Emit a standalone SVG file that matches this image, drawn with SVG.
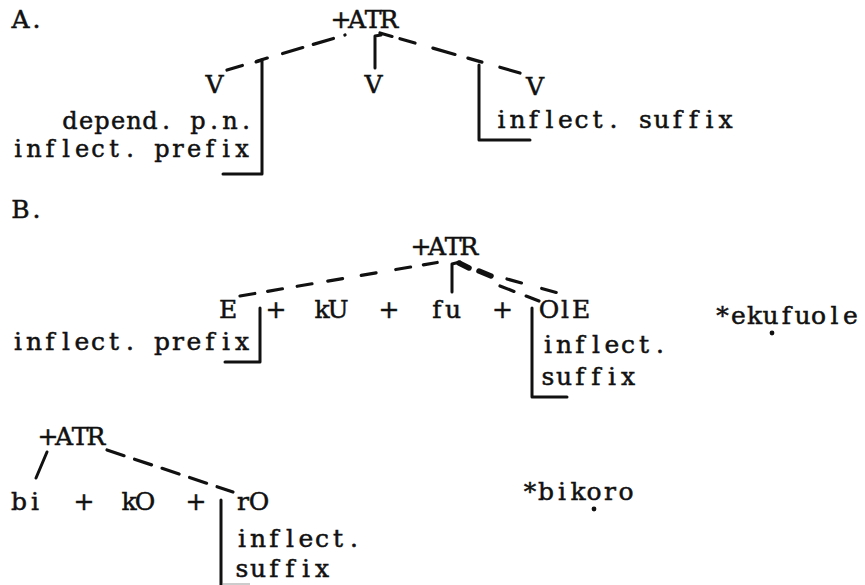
<svg xmlns="http://www.w3.org/2000/svg" width="865" height="585" viewBox="0 0 865 585">
  <style>
    /* typewriter-style text: each glyph is centred in a fixed 16px cell */
    text { font-family: "DejaVu Serif", "Liberation Serif", serif; font-size: 25px; text-anchor: middle; fill: #111; stroke: #111; stroke-width: 0.5px; }
    .tight { font-size: 24px; }
    .solid { fill: none; stroke: #111; stroke-width: 3; stroke-linecap: round; stroke-linejoin: round; }
    .dash { fill: none; stroke: #111; stroke-width: 3.2; stroke-linecap: round; }
    .bold { fill: none; stroke: #111; stroke-width: 5.5; stroke-linecap: round; }
  </style>
  <rect width="865" height="585" fill="#ffffff"/>

  <!-- Part A: feature spreading over verb -->
  <g id="labelA"><text x="20.5 36.5" y="28">A.</text></g>
  <g id="a-atr"><text x="341 357 373 389" y="28">+ATR</text></g>
  <g id="a-v-left"><text x="214.5" y="93">V</text></g>
  <g id="a-v-mid"><text x="373.5" y="93">V</text></g>
  <g id="a-v-right"><text x="535" y="95">V</text></g>
  <g id="a-prefix">
    <text class="tight"><tspan x="70 86 102 118 134 150 166 182 198 214 230 246" y="129">depend. p.n.</tspan><tspan x="18 34 50 66 82 98 114 130 146 162 178 194 210 226 242" y="157">inflect. prefix</tspan></text>
  </g>
  <g id="a-suffix"><text x="501.5 517.5 533.5 549.5 565.5 581.5 597.5 613.5 629.5 645.5 661.5 677.5 693.5 709.5 725.5" y="128">inflect. suffix</text></g>

  <!-- Part B: ekufuole -->
  <g id="labelB"><text x="20.5 36.5" y="218">B.</text></g>
  <g id="b-atr"><text x="421 437 453 469" y="255">+ATR</text></g>
  <g id="b-e"><text x="228" y="318">E</text></g>
  <g id="b-plus1"><text x="276" y="318">+</text></g>
  <g id="b-ku"><text x="322 338" y="318">kU</text></g>
  <g id="b-plus2"><text x="389" y="318">+</text></g>
  <g id="b-fu"><text x="437 453" y="318">fu</text></g>
  <g id="b-plus3"><text x="502.5" y="318">+</text></g>
  <g id="b-ole"><text x="549 565 581" y="318">OlE</text></g>
  <g id="b-prefix"><text x="18 34 50 66 82 98 114 130 146 162 178 194 210 226 242" y="350">inflect. prefix</text></g>
  <g id="b-suffix">
    <text><tspan x="548 564 580 596 612 628 644 660" y="353">inflect.</tspan><tspan x="548 564 580 596 612 628" y="385">suffix</tspan></text>
  </g>
  <g id="b-form">
    <text x="722.5 738.5 754.5 770.5 786.5 802.5 818.5 834.5 850.5" y="324">*ekufuole</text>
    <circle cx="772" cy="333" r="2.4" fill="#111"/>
  </g>

  <!-- Part C: bikoro -->
  <g id="c-atr"><text x="48 64 80 96" y="445">+ATR</text></g>
  <g id="c-bi"><text x="19 35" y="510">bi</text></g>
  <g id="c-plus1"><text x="84" y="510">+</text></g>
  <g id="c-ko"><text x="129 145" y="510">kO</text></g>
  <g id="c-plus2"><text x="196" y="510">+</text></g>
  <g id="c-ro"><text x="243 259" y="510">rO</text></g>
  <g id="c-suffix">
    <text><tspan x="242 258 274 290 306 322 338 354" y="547">inflect.</tspan><tspan x="242 258 274 290 306 322" y="577">suffix</tspan></text>
  </g>
  <g id="c-form">
    <text x="530 546 562 578 594 610 626" y="500">*bikoro</text>
    <circle cx="594" cy="509" r="2.4" fill="#111"/>
  </g>

  <!-- association lines and brackets -->
  <g id="connectors">
    <!-- A -->
    <path class="dash" d="M227,70 L345,35" stroke-dasharray="16 15 11 16 21 11 21 12 3 40"/>
    <path class="solid" d="M256,62 L262,60 L262,174 L223,174"/>
    <path class="solid" d="M381,35 L375,36 L375,68"/>
    <path class="dash" d="M380,33 L520,73" stroke-dasharray="12.5 8.3 15.6 18.6 23 13.4 14.6 18.7 21 20"/>
    <path class="solid" d="M479,65 L479,140 L530,140"/>

    <!-- B -->
    <path class="dash" d="M240,296 L440,262" stroke-dasharray="15 13 15 15 15 16 15 19 15 20 15 13 14 20"/>
    <path class="solid" d="M460,262 L452,264 L452,292"/>
    <path class="bold" d="M459,263 L469,268"/>
    <path class="bold" d="M479,271 L491,276"/>
    <path class="dash" d="M507,279 L573,297" stroke-dasharray="15 21"/>
    <path class="dash" d="M500,286 L539,301" stroke-dasharray="15 13"/>
    <path class="solid" d="M260,308 L260,362 L225,362"/>
    <path class="solid" d="M532,308 L532,397 L567,397"/>

    <!-- C -->
    <path class="solid" d="M47,452 L36,478"/>
    <path class="dash" d="M107,450 L233,492" stroke-dasharray="18 11"/>
    <path class="solid" d="M221,500 L221,586"/>
    <path d="M223,584 L250,584" stroke="#bbb" stroke-width="1.5" fill="none"/>
  </g>
</svg>
